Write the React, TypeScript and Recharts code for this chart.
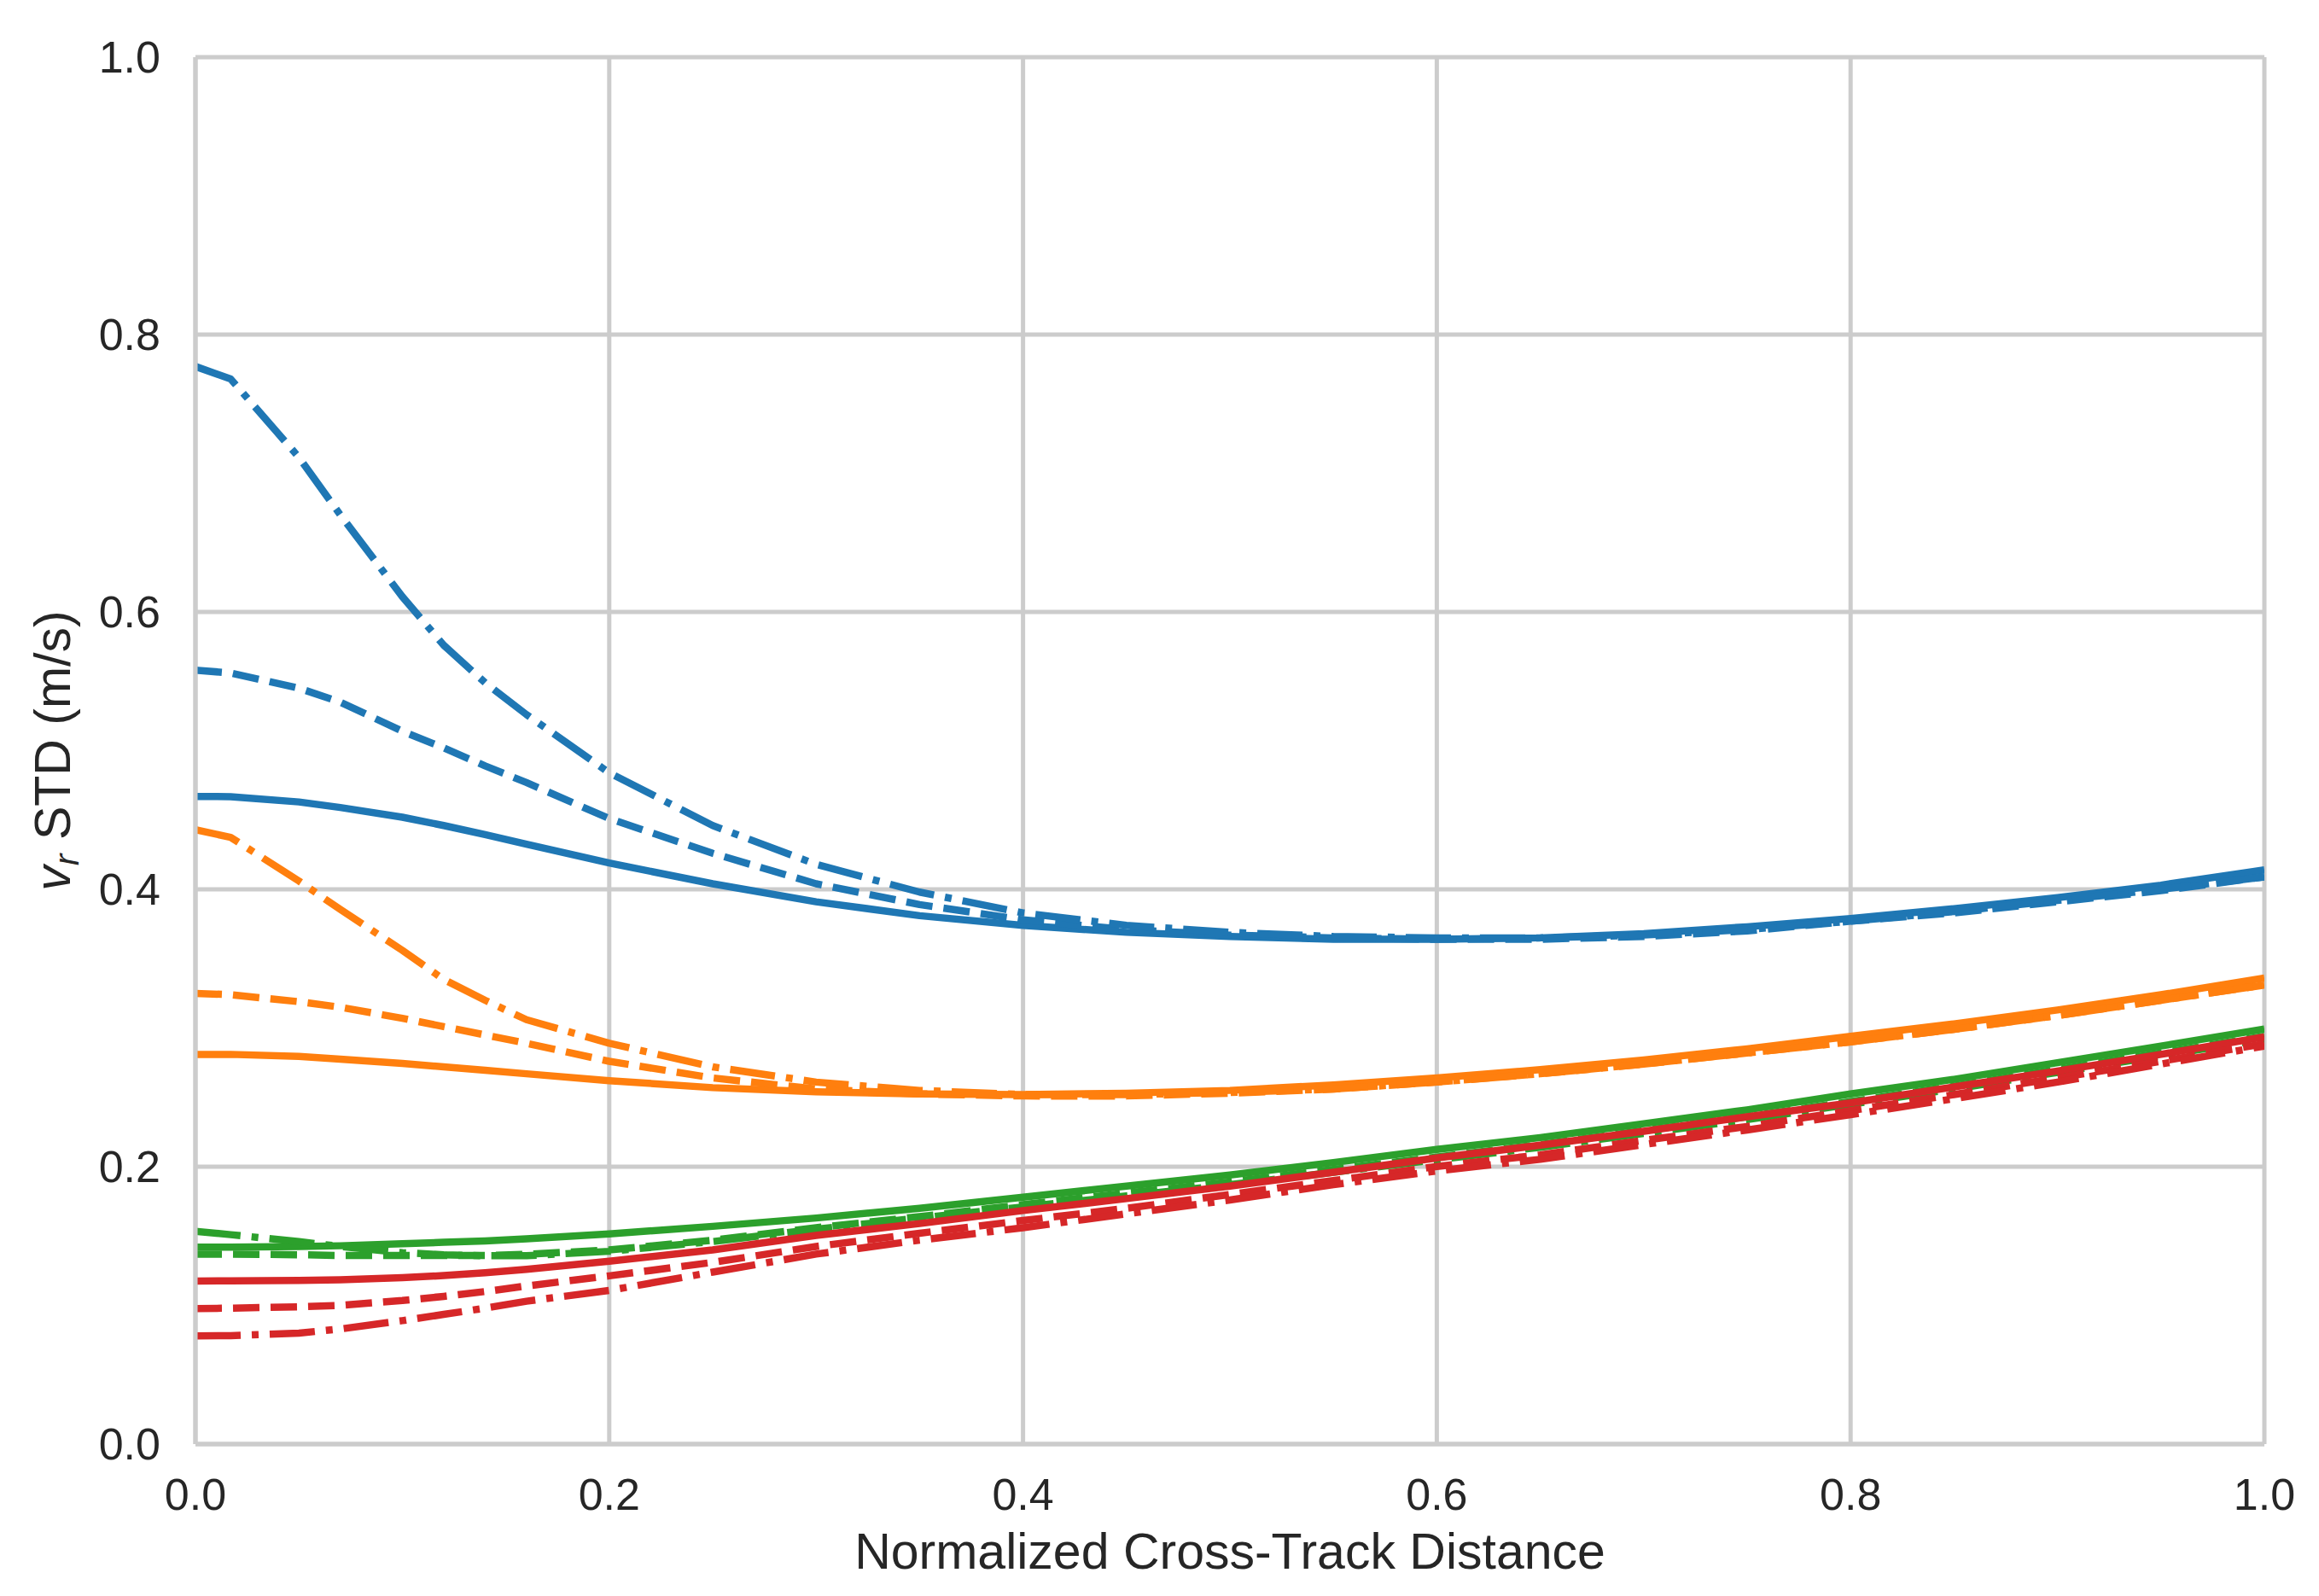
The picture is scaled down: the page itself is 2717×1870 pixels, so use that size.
import { CartesianGrid, Line, LineChart, XAxis, YAxis } from "recharts";

// Normalized cross-track distance (x) and the v_r STD curves.
const crossTrack = [
  0, 0.017, 0.05, 0.07, 0.1, 0.12, 0.14, 0.16, 0.2, 0.25, 0.3, 0.35, 0.4, 0.45,
  0.5, 0.55, 0.6, 0.65, 0.7, 0.75, 0.8, 0.85, 0.9, 0.95, 1.0,
];

const blueSolid = [
  0.467, 0.4668, 0.463, 0.459, 0.452, 0.446, 0.4395, 0.4325, 0.419, 0.404,
  0.391, 0.381, 0.374, 0.369, 0.366, 0.364, 0.364, 0.365, 0.368, 0.373, 0.379,
  0.386, 0.394, 0.403, 0.414,
];
const blueDashed = [
  0.558, 0.556, 0.545, 0.535, 0.514, 0.502, 0.489, 0.477, 0.451, 0.426, 0.404,
  0.389, 0.378, 0.371, 0.367, 0.365, 0.364, 0.364, 0.366, 0.37, 0.377, 0.383,
  0.391, 0.399, 0.409,
];
const blueDashDot = [
  0.777, 0.768, 0.7115, 0.67, 0.611, 0.576, 0.549, 0.526, 0.484, 0.446, 0.418,
  0.398, 0.383, 0.374, 0.369, 0.366, 0.365, 0.365, 0.367, 0.371, 0.377, 0.384,
  0.392, 0.4, 0.409,
];

const orangeSolid = [
  0.281, 0.281, 0.2795, 0.2775, 0.2745, 0.272, 0.2695, 0.267, 0.262, 0.257,
  0.254, 0.2525, 0.252, 0.253, 0.255, 0.259, 0.264, 0.27, 0.277, 0.285, 0.294,
  0.303, 0.313, 0.324, 0.336,
];
const orangeDashed = [
  0.325, 0.324, 0.319, 0.315, 0.307, 0.301, 0.295, 0.289, 0.276, 0.264, 0.256,
  0.2525, 0.251, 0.251, 0.253, 0.256, 0.261, 0.267, 0.274, 0.282, 0.29, 0.299,
  0.309, 0.32, 0.331,
];
const orangeDashDot = [
  0.443, 0.4375, 0.406, 0.3855, 0.356, 0.335, 0.32, 0.306, 0.289, 0.272, 0.261,
  0.255, 0.252, 0.252, 0.2535, 0.256, 0.261, 0.267, 0.274, 0.282, 0.29, 0.299,
  0.309, 0.32, 0.331,
];

const greenSolid = [
  0.142, 0.142, 0.1425, 0.143, 0.1445, 0.1455, 0.1465, 0.148, 0.1515, 0.157,
  0.163, 0.17, 0.178, 0.186, 0.194, 0.203, 0.2125, 0.221, 0.231, 0.241, 0.2525,
  0.263, 0.275, 0.287, 0.2993,
];
const greenDashed = [
  0.137, 0.137, 0.1365, 0.136, 0.136, 0.136, 0.136, 0.1368, 0.14, 0.147, 0.156,
  0.164, 0.1727, 0.181, 0.189, 0.198, 0.207, 0.216, 0.226, 0.236, 0.247, 0.258,
  0.27, 0.282, 0.294,
];
const greenDashDot = [
  0.1534, 0.151, 0.146, 0.1425, 0.138, 0.1365, 0.1358, 0.1358, 0.139, 0.146,
  0.155, 0.163, 0.171, 0.179, 0.187, 0.196, 0.205, 0.214, 0.224, 0.234, 0.245,
  0.256, 0.268, 0.28, 0.292,
];

const redSolid = [
  0.1175, 0.1177, 0.118, 0.1185, 0.12, 0.1215, 0.1235, 0.126, 0.1318, 0.14,
  0.1505, 0.159, 0.1684, 0.177, 0.186, 0.196, 0.2063, 0.2155, 0.2255, 0.236,
  0.246, 0.2575, 0.269, 0.281, 0.2935,
];
const redDashed = [
  0.0977, 0.098, 0.099, 0.1, 0.1035, 0.1065, 0.11, 0.114, 0.1213, 0.131,
  0.1425, 0.152, 0.1612, 0.17, 0.18, 0.19, 0.2002, 0.2085, 0.219, 0.229,
  0.2405, 0.252, 0.264, 0.276, 0.2887,
];
const redDashDot = [
  0.078, 0.0782, 0.08, 0.083, 0.089, 0.0935, 0.098, 0.103, 0.1108, 0.124,
  0.137, 0.147, 0.156, 0.166, 0.176, 0.187, 0.197, 0.2053, 0.216, 0.2265,
  0.2375, 0.249, 0.261, 0.274, 0.287,
];

const xTicks = [0, 0.2, 0.4, 0.6, 0.8, 1.0];
const yTicks = [0, 0.2, 0.4, 0.6, 0.8, 1.0];

const FONT = '"Liberation Sans", Arial, "DejaVu Sans", sans-serif';
const INK = "#262626";
const GRID = "#cccccc";

// matplotlib-style dash patterns for a ~8.5px line at 300 dpi
const DASHED = "31 13";
const DASHDOT = "53 13 8 13";

const SERIES = [
  { key: "blueSolid", values: blueSolid, color: "#1f77b4", dash: undefined },
  { key: "blueDashed", values: blueDashed, color: "#1f77b4", dash: DASHED },
  { key: "blueDashDot", values: blueDashDot, color: "#1f77b4", dash: DASHDOT },
  { key: "orangeSolid", values: orangeSolid, color: "#ff7f0e", dash: undefined },
  { key: "orangeDashed", values: orangeDashed, color: "#ff7f0e", dash: DASHED },
  { key: "orangeDashDot", values: orangeDashDot, color: "#ff7f0e", dash: DASHDOT },
  { key: "greenSolid", values: greenSolid, color: "#2ca02c", dash: undefined },
  { key: "greenDashed", values: greenDashed, color: "#2ca02c", dash: DASHED },
  { key: "greenDashDot", values: greenDashDot, color: "#2ca02c", dash: DASHDOT },
  { key: "redSolid", values: redSolid, color: "#d62728", dash: undefined },
  { key: "redDashed", values: redDashed, color: "#d62728", dash: DASHED },
  { key: "redDashDot", values: redDashDot, color: "#d62728", dash: DASHDOT },
];

const data = crossTrack.map((x, i) => {
  const row: Record<string, number> = { x };
  SERIES.forEach((s) => {
    row[s.key] = s.values[i];
  });
  return row;
});

function YLabel(props: any) {
  const vb = props.viewBox ?? { x: 0, y: 67, width: 229, height: 1625 };
  const cy = vb.y + vb.height / 2;
  const x = 82;
  return (
    <text
      x={x}
      y={cy}
      transform={`rotate(-90, ${x}, ${cy})`}
      textAnchor="middle"
      fontSize={59}
      fill={INK}
      fontFamily={FONT}
    >
      <tspan fontStyle="italic">v</tspan>
      <tspan fontStyle="italic" fontSize={41} dy={10}>
        r
      </tspan>
      <tspan dy={-10}> STD (m/s)</tspan>
    </text>
  );
}

export default function App() {
  return (
    <div
      style={{
        position: "absolute",
        left: 0,
        top: 0,
        width: 2717,
        height: 1870,
        background: "#fff",
      }}
    >
      <LineChart
        width={2717}
        height={1870}
        data={data}
        margin={{ top: 67, right: 64, left: 0, bottom: 0 }}
        style={{ fontFamily: FONT }}
      >
        <CartesianGrid stroke={GRID} strokeWidth={5} />
        <XAxis
          dataKey="x"
          type="number"
          domain={[0, 1]}
          ticks={xTicks}
          allowDataOverflow
          height={178}
          tickLine={false}
          tickSize={0}
          tickMargin={40}
          axisLine={{ stroke: GRID, strokeWidth: 5 }}
          tick={{ fill: INK, fontSize: 52, fontFamily: FONT }}
          tickFormatter={(v: number) => v.toFixed(1)}
          label={{
            value: "Normalized Cross-Track Distance",
            position: "insideBottom",
            offset: 32,
            fill: INK,
            fontSize: 59,
            fontFamily: FONT,
          }}
        />
        <YAxis
          type="number"
          domain={[0, 1]}
          ticks={yTicks}
          allowDataOverflow
          width={229}
          tickLine={false}
          tickSize={0}
          tickMargin={41}
          axisLine={{ stroke: GRID, strokeWidth: 5 }}
          tick={{ fill: INK, fontSize: 52, fontFamily: FONT }}
          tickFormatter={(v: number) => v.toFixed(1)}
          label={<YLabel />}
        />
        {SERIES.map((s) => (
          <Line
            key={s.key}
            dataKey={s.key}
            type="linear"
            stroke={s.color}
            strokeWidth={8.5}
            strokeDasharray={s.dash}
            strokeLinecap="butt"
            strokeLinejoin="round"
            dot={false}
            activeDot={false}
            isAnimationActive={false}
          />
        ))}
      </LineChart>
    </div>
  );
}
